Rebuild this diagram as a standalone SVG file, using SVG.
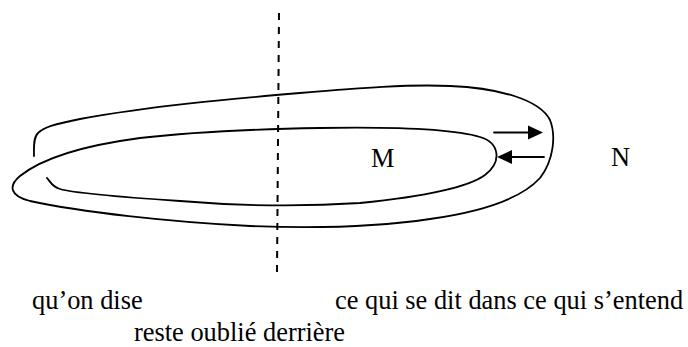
<svg xmlns="http://www.w3.org/2000/svg" width="688" height="347" viewBox="0 0 688 347">
<style>
.ln{fill:none;stroke:#000;stroke-width:1.8;stroke-linecap:round}
.dash{fill:none;stroke:#000;stroke-width:2;stroke-dasharray:7 7}
.t{font-family:"Liberation Serif","Times New Roman",serif;font-size:26.4px;fill:#000}
</style>
<rect width="688" height="347" fill="#fff"/>
<g id="connectors">
<path id="divider" class="dash" d="M279,13 L277,272"/>
<path id="spiral" class="ln" d="M34,156 C34,148 33,138 38,133 C44,127 55,124 80,119 C150,106 230,99 300,93 C360,88 410,84 450,86 C500,88 540,100 550,120 C556,135 554,160 540,178 C520,200 480,212 430,219 C370,228 300,228 250,226 C170,222 80,212 30,201 C10,196 8,186 20,176 C40,160 80,146 140,138 C200,131 260,129 320,128 C380,127 450,128 480,137 C500,143 502,162 485,175 C470,186 430,196 360,203 C300,207 240,206 180,201 C120,197 70,192 60,189 C52,187 50,181 47,178"/>
<g id="arrow-out">
<line class="ln" x1="494" y1="132.5" x2="530" y2="132.5"/>
<polygon points="528,125.5 543,132.5 528,139.5" fill="#000"/>
</g>
<g id="arrow-in">
<line class="ln" x1="544" y1="157" x2="510" y2="157"/>
<polygon points="497,157 512,150 512,164" fill="#000"/>
</g>
</g>
<g id="node-M"><text class="t" x="371" y="167">M</text></g>
<g id="node-N"><text class="t" x="611" y="166">N</text></g>
<g id="label-left"><text class="t" x="32" y="309">qu’on dise</text></g>
<g id="label-right"><text class="t" x="335" y="309">ce qui se dit dans ce qui s’entend</text></g>
<g id="label-bottom"><text class="t" x="134" y="341">reste oublié derrière</text></g>
</svg>
